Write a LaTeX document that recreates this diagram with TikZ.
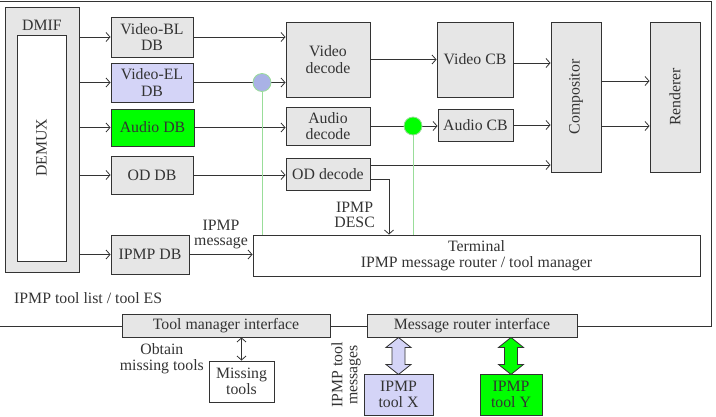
\documentclass[tikz,border=0pt]{standalone}
\usepackage{fontspec}
\setmainfont{Liberation Serif}
\usepackage{tikz}
\usetikzlibrary{arrows.meta,positioning,calc}

\definecolor{boxgray}{HTML}{E6E6E6}
\definecolor{lav}{HTML}{D4D4F7}
\definecolor{lavdot}{HTML}{A9B2E6}
\definecolor{toolgreen}{HTML}{00FF00}
\definecolor{wire}{HTML}{99DD99}
\definecolor{ink}{HTML}{333333}

\begin{document}
\begin{tikzpicture}[x=1pt, y=-1pt,
    font=\fontsize{15.8}{16.5}\selectfont, text=ink,
    blk/.style={draw=ink, line width=0.9pt, fill=boxgray, align=center, inner sep=0pt},
    lbl/.style={align=center, inner sep=0pt},
    arr/.style={draw=ink, line width=0.8pt, -{Straight Barb[length=4pt,width=9pt]}},
    dbl/.style={arr, {Straight Barb[length=4pt,width=9pt]}-{Straight Barb[length=4pt,width=9pt]}},
    tap/.style={circle, draw=wire, line width=0.8pt, minimum size=18pt, inner sep=0pt},
    % fat two-headed arrow, 37 long, drawn downwards from its top
    fatarrow/.pic={
        \draw[ink, line width=0.8pt, fill=\pgfkeysvalueof{/tikz/fatfill}]
            (0,0) -- (12.5,10) -- (6.5,10) -- (6.5,27) -- (12.5,27) -- (0,37)
            -- (-12.5,27) -- (-6.5,27) -- (-6.5,10) -- (-12.5,10) -- cycle;},
    fatfill/.initial=lav]
    \useasboundingbox (0,0) rectangle (716,416);

    % terminal frame
    \draw[ink, line width=1pt] (0,1) -- (711,1) -- (711,326) -- (0,326);

    % DMIF and demux
    \node[blk, minimum width=74pt, minimum height=265pt] (dmif) at (42,139.5) {};
    \node (dmiflbl) at (42,25) {DMIF};
    \node[blk, fill=white, minimum width=49pt, minimum height=226pt] (demux) at (41.5,148) {\rotatebox{90}{DEMUX}};

    % decoding buffers
    \node[blk, minimum width=82pt, minimum height=40pt] (vbl) at (152,37) {Video-BL\\DB};
    \node[blk, fill=lav, minimum width=82pt, minimum height=39pt] (vel) at (152,82.5) {Video-EL\\DB};
    \node[blk, fill=toolgreen, minimum width=83pt, minimum height=37pt] (adb) at (152.5,127.5) {Audio DB};
    \node[blk, minimum width=82pt, minimum height=38pt] (oddb) at (152,175) {OD DB};
    \node[blk, minimum width=78pt, minimum height=39pt] (ipmpdb) at (150,254.5) {IPMP DB};

    % decoders and composition buffers
    \node[blk, minimum width=84pt, minimum height=75pt] (vdec) at (328,59.5) {Video\\decode};
    \node[blk, minimum width=84pt, minimum height=38pt] (adec) at (328,126) {Audio\\decode};
    \node[blk, minimum width=84pt, minimum height=32pt] (oddec) at (328,174) {OD decode};
    \node[blk, minimum width=76pt, minimum height=75pt] (vcb) at (475,59.5) {Video CB};
    \node[blk, minimum width=75pt, minimum height=32pt] (acb) at (475.5,125) {Audio CB};
    \node[blk, minimum width=50pt, minimum height=150pt] (comp) at (576,97) {\rotatebox{90}{Compositor}};
    \node[blk, minimum width=50pt, minimum height=150pt] (rend) at (675,97) {\rotatebox{90}{Renderer}};

    \node[blk, fill=white, minimum width=447pt, minimum height=41pt] (term) at (476.5,255.5)
        {Terminal\\IPMP message router / tool manager};

    % demux outputs
    \foreach \b in {vbl,vel,adb,oddb,ipmpdb}
        \draw[arr] (dmif.east |- \b) -- (\b);

    % buffers to decoders
    \draw[arr] (vbl) -- (vbl -| vdec.west);
    \draw[arr] (vel) -- (vel -| vdec.west);
    \draw[arr] (adb) -- (adb -| adec.west);
    \draw[arr] (oddb) -- (oddb -| oddec.west);
    \draw[arr] (ipmpdb) -- (ipmpdb -| term.west);

    \draw[arr] (vdec) -- (vdec -| vcb.west);
    \draw[arr] (adec) -- (adec -| acb.west);
    \draw[arr] ([yshift=-3.5pt]vcb.east) -- ([yshift=-3.5pt]vcb.east -| comp.west);
    \draw[arr] (acb) -- (acb -| comp.west);
    \draw[arr] ([yshift=9pt]oddec.east) -- ([yshift=9pt]oddec.east -| comp.west);
    \draw[arr] ([yshift=-5pt]oddec.east) -| ([xshift=-87.5pt]term.north);
    \draw[arr] ([yshift=16pt]comp.east) -- ([yshift=16pt]comp.east -| rend.west);
    \draw[arr] ([yshift=-29pt]comp.east) -- ([yshift=-29pt]comp.east -| rend.west);

    % IPMP control points
    \draw[wire, line width=0.8pt] (262,82.5) -- (262,235);
    \draw[wire, line width=0.8pt] (413,126) -- (413,235);
    \node[tap, fill=lavdot] (eltap) at (262,82.5) {};
    \node[tap, fill=toolgreen] (atap) at (413,126) {};

    \node[lbl, font=\fontsize{15.8}{15}\selectfont] (msglbl) at (221,234.5) {IPMP\\message};
    \node[lbl, font=\fontsize{15.8}{15}\selectfont, anchor=east] (desclbl) at (375,215) {IPMP\\DESC};
    \node[lbl, anchor=west] (toollist) at (14,298) {IPMP tool list / tool ES};

    % interfaces
    \node[blk, minimum width=208pt, minimum height=23pt] (tmi) at (226,325.5) {Tool manager interface};
    \node[blk, minimum width=210pt, minimum height=23pt] (mri) at (472,325.5) {Message router interface};

    \node[blk, fill=white, minimum width=65pt, minimum height=41pt] (miss) at (241.5,381.5) {Missing\\tools};
    \draw[dbl] (tmi.south -| miss) -- (miss);
    \node[lbl, anchor=east, font=\fontsize{15.8}{16}\selectfont] (obtain) at (204,359) {Obtain\\missing tools};

    \node[lbl, rotate=90, font=\fontsize{15.8}{15}\selectfont] (msgs) at (346,375) {IPMP tool\\messages};

    \node[blk, fill=lav, minimum width=69pt, minimum height=41pt] (toolx) at (398.5,394.5) {IPMP\\tool X};
    \node[blk, fill=toolgreen, minimum width=62pt, minimum height=41pt] (tooly) at (511,394.5) {IPMP\\tool Y};
    \pic at (mri.south -| toolx) {fatarrow};
    \pic[fatfill=toolgreen] at (mri.south -| tooly) {fatarrow};
\end{tikzpicture}
\end{document}
